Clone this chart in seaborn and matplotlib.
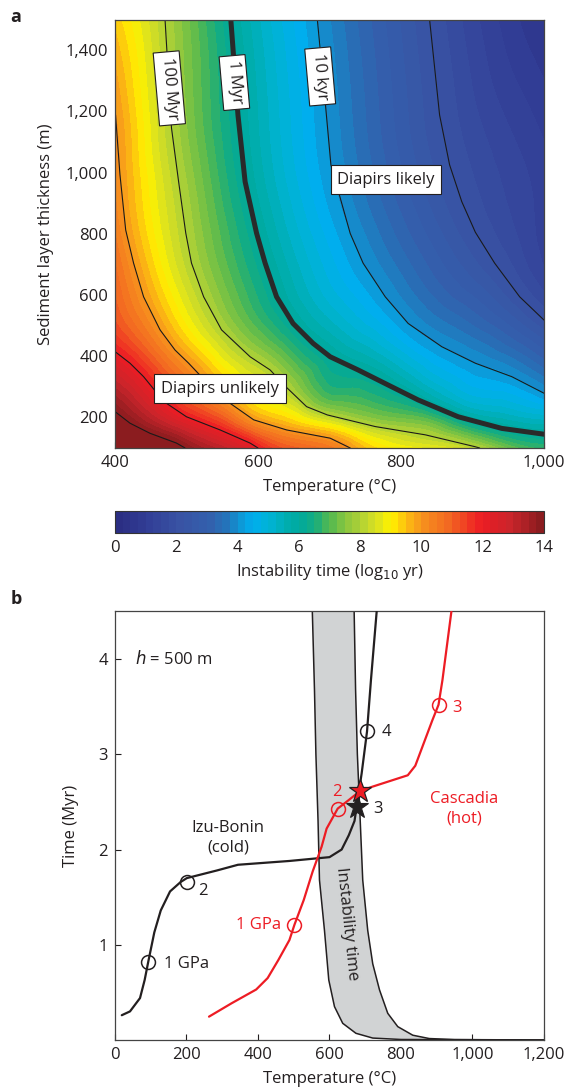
import numpy as np
import matplotlib
matplotlib.use("Agg")
import matplotlib.pyplot as plt
import matplotlib.tri as mtri
from matplotlib.colors import LinearSegmentedColormap, BoundaryNorm, Normalize
from matplotlib.cm import ScalarMappable
from matplotlib.ticker import FuncFormatter
import seaborn as sns

# ---------------- Panel a: contour lines of log10 instability time (T in °C, h in m)
lev2_T = [840, 854, 868, 885, 904, 931, 966, 1000]
lev2_h = [1500, 1188, 1025, 905, 805, 704, 594, 518]
lev4_T = [683, 694, 702, 729, 747, 778, 810, 857, 904, 955, 1000]
lev4_h = [1500, 1231, 1025, 801, 704, 594, 507, 431, 377, 333, 279]
lev6_T = [562, 572, 582, 598, 610, 626, 649, 677, 701, 740, 787, 824, 880, 941, 1000]
lev6_h = [1500, 1188, 970, 802, 704, 594, 507, 442, 398, 355, 300, 257, 202, 164, 145]
lev8_T = [470, 479, 489, 499, 507, 524, 549, 589, 617, 639, 668, 697, 764, 834, 904, 910]
lev8_h = [1500, 1146, 970, 802, 704, 594, 486, 398, 355, 300, 235, 208, 170, 143, 104, 100]
lev10_T = [400, 407, 415, 426, 440, 463, 484, 503, 530, 561, 594, 640, 701, 729]
lev10_h = [1211, 992, 812, 704, 594, 486, 420, 377, 310, 246, 192, 159, 132, 100]
lev12_T = [400, 421, 440, 455, 472, 500, 547, 589, 600]
lev12_h = [415, 377, 333, 290, 246, 202, 159, 116, 100]
lev14_T = [400, 421, 449, 486, 498]
lev14_h = [219, 181, 148, 116, 100]
# values on the frame where no contour passes
edge_T = [400, 1000, 1000, 400, 400, 400, 1000]
edge_h = [1500, 1500, 100, 100, 800, 600, 1000]
edge_v = [9.4, 0.5, 6.7, 15.5, 10.5, 11.0, 1.1]

cbar_ticks = [0, 2, 4, 6, 8, 10, 12, 14]
a_xticks = [400, 600, 800, 1000]
a_yticks = [200, 400, 600, 800, 1000, 1200, 1400]

# ---------------- Panel b: P-T-t paths (T in °C, time in Myr)
izu_T = [19, 42, 70, 83, 93, 110, 128, 154, 184, 201, 285, 344, 488, 600, 634, 654, 670, 676, 690, 705, 716, 732]
izu_t = [0.26, 0.30, 0.44, 0.63, 0.82, 1.13, 1.36, 1.56, 1.66, 1.70, 1.78, 1.84, 1.88, 1.92, 2.0, 2.15, 2.30, 2.45, 2.80, 3.24, 3.78, 4.5]
cas_T = [263, 326, 395, 427, 457, 488, 502, 528, 553, 578, 592, 623, 654, 684, 720, 819, 840, 860, 888, 905, 916, 941]
cas_t = [0.245, 0.385, 0.53, 0.65, 0.84, 1.05, 1.21, 1.47, 1.77, 2.03, 2.22, 2.43, 2.52, 2.61, 2.66, 2.78, 2.88, 3.08, 3.36, 3.52, 3.78, 4.5]
band_left_T = [552, 558, 562, 568, 572, 586, 598, 614, 637, 674, 721, 800, 1200]
band_left_t = [4.5, 3.68, 3.0, 2.3, 1.68, 1.15, 0.63, 0.35, 0.175, 0.07, 0.02, 0.005, 0.0]
band_right_T = [669, 673, 678, 686, 693, 707, 721, 740, 763, 791, 833, 879, 950, 1200]
band_right_t = [4.5, 3.68, 3.0, 2.3, 1.68, 1.15, 0.80, 0.525, 0.28, 0.14, 0.05, 0.015, 0.004, 0.0]
izu_circ_T = [93, 201, 705]
izu_circ_t = [0.82, 1.66, 3.24]
izu_star = (676, 2.45)
cas_circ_T = [502, 623, 905]
cas_circ_t = [1.21, 2.43, 3.52]
cas_star = (684, 2.61)
b_xticks = [0, 200, 400, 600, 800, 1000, 1200]
b_yticks = [1, 2, 3, 4]

# ---------------- style
sns.set_theme(style="ticks")
plt.rcParams["font.family"] = ["Open Sans", "DejaVu Sans"]
plt.rcParams["mathtext.fontset"] = "dejavusans"
TXT = "#231f20"
RED = "#ed1c24"
FS = 12
plt.rcParams.update({
    "text.color": TXT, "axes.labelcolor": TXT, "xtick.color": TXT, "ytick.color": TXT,
    "axes.edgecolor": "#444444", "axes.linewidth": 0.9,
    "xtick.direction": "in", "ytick.direction": "in",
    "xtick.labelsize": FS, "ytick.labelsize": FS, "axes.labelsize": FS,
})

stops = [(0, "#2b2e83"), (1, "#323f97"), (2, "#3953a4"), (3, "#3360ad"), (3.5, "#2572b9"),
         (4, "#0f95d3"), (4.4, "#00aeef"), (5, "#00b3d3"), (5.6, "#00adad"), (6, "#00a99d"),
         (6.5, "#19ad7c"), (7, "#55b94f"), (7.5, "#88c540"), (8, "#afd136"), (8.5, "#d6df23"),
         (9, "#fff200"), (9.5, "#fdc20f"), (10, "#f7941d"), (11, "#f26522"), (12, "#ed1c24"),
         (13, "#c9252b"), (14, "#8b1c1f")]
cmap = LinearSegmentedColormap.from_list("instab", [(v / 14.0, c) for v, c in stops])

comma = FuncFormatter(lambda v, p: f"{int(round(v)):,}")

fig = plt.figure(figsize=(5.67, 10.9), dpi=100)
axa = fig.add_axes([0.2028, 0.5890, 0.7566, 0.3931])
cax = fig.add_axes([0.2028, 0.5107, 0.7566, 0.0207])
axb = fig.add_axes([0.2028, 0.0459, 0.7566, 0.3931])

# ---------------- panel a
contours = [(2, lev2_T, lev2_h), (4, lev4_T, lev4_h), (6, lev6_T, lev6_h), (8, lev8_T, lev8_h),
            (10, lev10_T, lev10_h), (12, lev12_T, lev12_h), (14, lev14_T, lev14_h)]
PT = np.concatenate([np.asarray(t, float) for _, t, _ in contours] + [np.asarray(edge_T, float)])
PH = np.concatenate([np.asarray(h, float) for _, _, h in contours] + [np.asarray(edge_h, float)])
PV = np.concatenate([np.full(len(t), float(l)) for l, t, _ in contours] + [np.asarray(edge_v, float)])
XN = (PT - 400) / 600.0
YN = (PH - 100) / 1400.0
tri_n = mtri.Triangulation(XN, YN)
refiner = mtri.UniformTriRefiner(tri_n)
tri_r, v_r = refiner.refine_field(PV, subdiv=3)
tri_plot = mtri.Triangulation(tri_r.x * 600.0 + 400, tri_r.y * 1400.0 + 100, triangles=tri_r.triangles)
levels = np.arange(0, 14.001, 0.25)
axa.tricontourf(tri_plot, v_r, levels=levels, cmap=cmap, norm=Normalize(0, 14), extend="both")

for lev, T, H in contours:
    if lev == 6:
        sns.lineplot(x=T, y=H, sort=False, estimator=None, color="#2a2a2a", lw=3.6, ax=axa)
    else:
        sns.lineplot(x=T, y=H, sort=False, estimator=None, color="#1a1a1a", lw=0.8, ax=axa)

axa.set_xlim(400, 1000)
axa.set_ylim(100, 1500)
axa.set_xticks(a_xticks)
axa.set_yticks(a_yticks)
axa.xaxis.set_major_formatter(comma)
axa.yaxis.set_major_formatter(comma)
axa.set_xlabel("Temperature (°C)", labelpad=6)
axa.set_ylabel("Sediment layer thickness (m)", labelpad=8)
axa.tick_params(length=4, width=0.8, pad=5)

box = dict(boxstyle="square,pad=0.3", fc="white", ec=TXT, lw=0.8)
for txt, x, y in [("100 Myr", 476, 1275), ("1 Myr", 567, 1294), ("10 kyr", 687, 1314)]:
    axa.text(x, y, txt, rotation=-85, ha="center", va="center", rotation_mode="anchor",
             fontsize=FS, bbox=box, zorder=6)
box2 = dict(boxstyle="square,pad=0.4", fc="white", ec=TXT, lw=0.8)
axa.text(779, 977, "Diapirs likely", ha="center", va="center", fontsize=FS, bbox=box2, zorder=6)
axa.text(547, 294, "Diapirs unlikely", ha="center", va="center", fontsize=FS, bbox=box2, zorder=6)

# colorbar
sm = ScalarMappable(norm=BoundaryNorm(levels, cmap.N), cmap=cmap)
cb = fig.colorbar(sm, cax=cax, orientation="horizontal", ticks=cbar_ticks)
cb.outline.set_linewidth(0.8)
cb.outline.set_edgecolor("#333333")
cax.tick_params(direction="in", length=3, width=0.7, labelsize=FS, pad=5)
cb.set_label("Instability time (log$_{10}$ yr)", fontsize=FS, labelpad=4)

# ---------------- panel b
poly_T = np.concatenate([band_left_T, band_right_T[::-1]])
poly_t = np.concatenate([band_left_t, band_right_t[::-1]])
axb.fill(poly_T, poly_t, color="#d1d3d4", lw=0, zorder=1)
sns.lineplot(x=band_left_T, y=band_left_t, sort=False, estimator=None, color=TXT, lw=1.1, ax=axb, zorder=2)
sns.lineplot(x=band_right_T, y=band_right_t, sort=False, estimator=None, color=TXT, lw=1.1, ax=axb, zorder=2)
sns.lineplot(x=izu_T, y=izu_t, sort=False, estimator=None, color=TXT, lw=1.6, ax=axb, zorder=3)
sns.lineplot(x=cas_T, y=cas_t, sort=False, estimator=None, color=RED, lw=1.6, ax=axb, zorder=3)
axb.plot(izu_circ_T, izu_circ_t, "o", ms=10, mfc="none", mec=TXT, mew=1.1, zorder=4)
axb.plot(cas_circ_T, cas_circ_t, "o", ms=10, mfc="none", mec=RED, mew=1.1, zorder=4)
axb.plot([izu_star[0]], [izu_star[1]], "*", ms=17, mfc="#231f20", mec="#231f20", mew=0.8, zorder=5)
axb.plot([cas_star[0]], [cas_star[1]], "*", ms=17, mfc=RED, mec=TXT, mew=0.9, zorder=6)

axb.text(56, 4.0, "$h$ = 500 m", ha="left", va="center", fontsize=FS)
axb.text(137, 0.80, "1 GPa", ha="left", va="center", fontsize=FS)
axb.text(247, 1.56, "2", ha="center", va="center", fontsize=FS)
axb.text(735, 2.43, "3", ha="center", va="center", fontsize=FS)
axb.text(758, 3.23, "4", ha="center", va="center", fontsize=FS)
axb.text(465, 1.21, "1 GPa", ha="right", va="center", fontsize=FS, color=RED)
axb.text(620, 2.60, "2", ha="center", va="center", fontsize=FS, color=RED)
axb.text(956, 3.49, "3", ha="center", va="center", fontsize=FS, color=RED)
axb.text(316, 2.125, "Izu-Bonin\n(cold)", ha="center", va="center", fontsize=FS, linespacing=1.3)
axb.text(976, 2.43, "Cascadia\n(hot)", ha="center", va="center", fontsize=FS, color=RED, linespacing=1.3)
axb.text(649, 1.22, "Instability time", rotation=-84, ha="center", va="center",
         rotation_mode="anchor", fontsize=FS)

axb.set_xlim(0, 1200)
axb.set_ylim(0, 4.5)
axb.set_xticks(b_xticks)
axb.set_yticks(b_yticks)
axb.xaxis.set_major_formatter(comma)
axb.set_xlabel("Temperature (°C)", labelpad=6)
axb.set_ylabel("Time (Myr)", labelpad=14)
axb.tick_params(length=4, width=0.8, pad=5)
for sp in axb.spines.values():
    sp.set_visible(True)
for sp in axa.spines.values():
    sp.set_visible(True)

fig.text(0.018, 0.984, "a", fontsize=13, fontweight="bold", va="center", ha="left")
fig.text(0.018, 0.450, "b", fontsize=13, fontweight="bold", va="center", ha="left")

fig.savefig("out.png", dpi=100)
